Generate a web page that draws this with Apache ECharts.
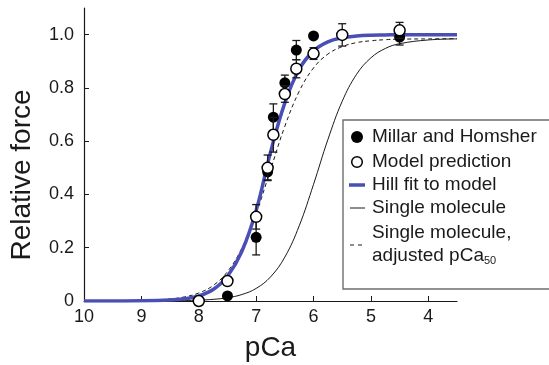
<!DOCTYPE html>
<html>
<head>
<meta charset="utf-8">
<script src="https://cdn.jsdelivr.net/npm/echarts@6/dist/echarts.min.js"></script>
<style>
  html, body { margin: 0; padding: 0; background: #fff; }
  #chart { width: 549px; height: 365px; }
</style>
</head>
<body>
<div id="chart"></div>
<script>
// pCa grid shared by the three curves
var curvePca = [10, 9.5, 9, 8.5, 8.25, 8, 7.75, 7.5, 7.25, 7, 6.75, 6.5, 6.25, 6, 5.75, 5.5, 5.25, 5, 4.75, 4.5, 4, 3.5];
var hillFit = [0, 0.0001, 0.0007, 0.0036, 0.0084, 0.019, 0.043, 0.093, 0.186, 0.34, 0.558, 0.744, 0.870, 0.939, 0.973, 0.988, 0.995, 0.998, 0.999, 1.0, 1.0, 1.0];
var singleMol = [0, 0, 0.0002, 0.0008, 0.0016, 0.0031, 0.0062, 0.0123, 0.0242, 0.0472, 0.0903, 0.165, 0.282, 0.438, 0.606, 0.750, 0.851, 0.913, 0.948, 0.966, 0.980, 0.984];
var singleMolAdj = [0.0001, 0.0005, 0.002, 0.0078, 0.0154, 0.030, 0.058, 0.110, 0.198, 0.329, 0.4925, 0.656, 0.787, 0.875, 0.927, 0.955, 0.970, 0.977, 0.981, 0.983, 0.984, 0.985];

// Millar and Homsher (filled)
var millarPca = [7.5, 7.0, 6.8, 6.7, 6.5, 6.3, 6.0, 4.5];
var millarForce = [0.019, 0.239, 0.485, 0.69, 0.819, 0.942, 0.995, 0.991];
var millarErr = [0, 0.066, 0.03, 0.05, 0.029, 0.036, 0, 0.03];

// Model prediction (open)
var modelPca = [8.0, 7.5, 7.0, 6.8, 6.7, 6.5, 6.3, 6.0, 5.5, 4.5];
var modelForce = [0.0, 0.075, 0.316, 0.50, 0.624, 0.777, 0.872, 0.929, 0.999, 1.016];
var modelErr = [0, 0, 0.046, 0.048, 0.065, 0.031, 0.034, 0.022, 0.042, 0.03];

var xLabels = [10, 9, 8, 7, 6, 5, 4];
var yLabels = [0, 0.2, 0.4, 0.6, 0.8, 1.0];

var FONT = 'Liberation Sans, Arial, Helvetica, sans-serif';
var INK = '#1a1a1a';
var BLUE = '#4a4fb5';

function zip(xs, ys, es) {
  return xs.map(function (x, i) {
    return es ? [x, ys[i], es[i]] : [x, ys[i]];
  });
}

// 误差棒
function errorBar(params, api) {
  var e = api.value(2);
  if (!e) {
    return null;
  }
  var x = api.value(0);
  var y = api.value(1);
  var hi = api.coord([x, y + e]);
  var lo = api.coord([x, y - e]);
  var w = 4;
  var st = { stroke: INK, lineWidth: 1.3 };
  return {
    type: 'group',
    children: [
      { type: 'line', shape: { x1: hi[0], y1: hi[1], x2: lo[0], y2: lo[1] }, style: st },
      { type: 'line', shape: { x1: hi[0] - w, y1: hi[1], x2: hi[0] + w, y2: hi[1] }, style: st },
      { type: 'line', shape: { x1: lo[0] - w, y1: lo[1], x2: lo[0] + w, y2: lo[1] }, style: st }
    ]
  };
}

function legendText(y, text) {
  return {
    type: 'text', x: 372, y: y, z: 101,
    style: { text: text, font: '19px ' + FONT, fill: INK, verticalAlign: 'middle' }
  };
}

var chart = echarts.init(document.getElementById('chart'));

chart.setOption({
  animation: false,
  textStyle: { fontFamily: FONT },
  grid: { left: 84, right: 92, top: 8, bottom: 64, outerBoundsMode: 'none' },
  xAxis: {
    type: 'value',
    min: 3.5,
    max: 10,
    inverse: true,
    splitLine: { show: false },
    axisLine: { lineStyle: { color: INK, width: 1.2 } },
    axisTick: { inside: true, length: 5, customValues: [9, 8, 7, 6, 5, 4], lineStyle: { color: INK } },
    axisLabel: { customValues: xLabels, fontSize: 18, color: INK, margin: 7 },
    name: 'pCa',
    nameLocation: 'middle',
    nameGap: 33,
    nameTextStyle: { fontSize: 28, color: INK }
  },
  yAxis: {
    type: 'value',
    min: 0,
    max: 1.1,
    splitLine: { show: false },
    axisLine: { show: true, lineStyle: { color: INK, width: 1.2 } },
    axisTick: { show: true, inside: true, length: 5, customValues: [0.2, 0.4, 0.6, 0.8, 1.0], lineStyle: { color: INK } },
    axisLabel: {
      customValues: yLabels,
      fontSize: 18,
      color: INK,
      margin: 10,
      formatter: function (v) { return v === 0 ? '0' : v.toFixed(1); }
    }
  },
  graphic: [
    {
      type: 'text', x: 22, y: 175, rotation: Math.PI / 2,
      style: { text: 'Relative force', font: '28px ' + FONT, fill: INK, align: 'center', verticalAlign: 'middle' }
    },
    {
      // legend frame, runs off the right edge like the source figure
      type: 'polyline', z: 100,
      shape: { points: [[620, 120], [343, 120], [343, 289], [620, 289]] },
      style: { fill: null, stroke: '#6e6e6e', lineWidth: 1.4 }
    },
    { type: 'circle', x: 357, y: 137, z: 101, shape: { r: 6 }, style: { fill: '#000' } },
    { type: 'circle', x: 357, y: 162, z: 101, shape: { r: 5.3 }, style: { fill: '#fff', stroke: '#000', lineWidth: 1.5 } },
    { type: 'line', z: 101, shape: { x1: 349, y1: 185, x2: 365, y2: 185 }, style: { stroke: BLUE, lineWidth: 3.5 } },
    { type: 'line', z: 101, shape: { x1: 350, y1: 208, x2: 365, y2: 208 }, style: { stroke: INK, lineWidth: 1 } },
    { type: 'line', z: 101, shape: { x1: 350, y1: 245, x2: 364, y2: 245 }, style: { stroke: INK, lineWidth: 1, lineDash: [4, 4] } },
    legendText(137, 'Millar and Homsher'),
    legendText(162, 'Model prediction'),
    legendText(185, 'Hill fit to model'),
    legendText(208, 'Single molecule'),
    legendText(233, 'Single molecule,'),
    {
      type: 'text', x: 372, y: 256, z: 101,
      style: {
        text: 'adjusted pCa{sub|50}',
        font: '19px ' + FONT,
        fill: INK,
        verticalAlign: 'middle',
        rich: { sub: { fontSize: 11, verticalAlign: 'bottom', padding: [9, 0, 0, 0], fill: INK } }
      }
    }
  ],
  series: [
    {
      name: 'Single molecule, adjusted pCa50',
      type: 'line',
      data: zip(curvePca, singleMolAdj),
      smooth: 0.4,
      symbol: 'none',
      lineStyle: { color: INK, width: 1, type: [4, 3] },
      z: 2
    },
    {
      name: 'Single molecule',
      type: 'line',
      data: zip(curvePca, singleMol),
      smooth: 0.4,
      symbol: 'none',
      lineStyle: { color: INK, width: 1 },
      z: 2
    },
    {
      name: 'Hill fit to model',
      type: 'line',
      data: zip(curvePca, hillFit),
      smooth: 0.4,
      symbol: 'none',
      lineStyle: { color: BLUE, width: 3.5 },
      z: 3
    },
    {
      name: 'Millar err',
      type: 'custom',
      renderItem: errorBar,
      data: zip(millarPca, millarForce, millarErr),
      z: 4
    },
    {
      name: 'Millar and Homsher',
      type: 'scatter',
      data: zip(millarPca, millarForce),
      symbol: 'circle',
      symbolSize: 11,
      itemStyle: { color: '#000', opacity: 1 },
      z: 5
    },
    {
      name: 'Model err',
      type: 'custom',
      renderItem: errorBar,
      data: zip(modelPca, modelForce, modelErr),
      z: 6
    },
    {
      name: 'Model prediction',
      type: 'scatter',
      data: zip(modelPca, modelForce),
      symbol: 'circle',
      symbolSize: 11,
      itemStyle: { color: '#fff', borderColor: '#000', borderWidth: 1.5, opacity: 1 },
      z: 7
    }
  ]
});
</script>
</body>
</html>
